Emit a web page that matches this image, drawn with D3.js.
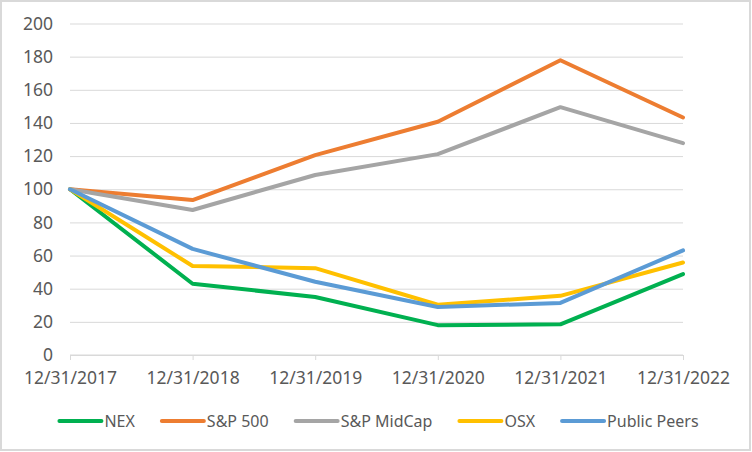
<!DOCTYPE html>
<html>
<head>
<meta charset="utf-8">
<script src="https://cdn.jsdelivr.net/npm/d3@7"></script>
<style>
  body { margin: 0; background: #fff; }
  svg { display: block; font-family: "Noto Sans", sans-serif; }
</style>
</head>
<body>
<svg id="chart" width="752" height="452"></svg>
<script>
/** ------------- DATA -------------- */
const dates = ["12/31/2017", "12/31/2018", "12/31/2019", "12/31/2020", "12/31/2021", "12/31/2022"];
const nex = [100, 43, 35, 18, 18.5, 48.8];
const sp500 = [100, 93.5, 120.6, 140.7, 177.8, 143.3];
const midcap = [100, 87.5, 108.6, 121.2, 149.5, 127.8];
const osx = [100, 53.7, 52.4, 30.3, 35.7, 55.8];
const peers = [100, 64, 44.2, 29, 31.4, 63.1];
const yTicks = [0, 20, 40, 60, 80, 100, 120, 140, 160, 180, 200];

const series = [
    { name: "NEX", values: nex, color: "#00B050" },
    { name: "S&P 500", values: sp500, color: "#ED7D31" },
    { name: "S&P MidCap", values: midcap, color: "#A5A5A5" },
    { name: "OSX", values: osx, color: "#FFC000" },
    { name: "Public Peers", values: peers, color: "#5B9BD5" },
];

/** ------------- D3 GRAPH -------------- */
const svg = d3.select("#chart");
const width = +svg.attr("width");
const height = +svg.attr("height");

// outer frame
svg.append("rect")
    .attr("x", 1).attr("y", 1)
    .attr("width", width - 3).attr("height", height - 3)
    .attr("fill", "#fff")
    .attr("stroke", "#d9d9d9")
    .attr("stroke-width", 2);

const x = d3.scalePoint().domain(dates).range([70, 683]);
const y = d3.scaleLinear().domain([0, 200]).range([355, 23.5]);

/** gridlines + y labels */
const yAxis = svg.append("g")
    .attr("transform", "translate(70,0)")
    .call(d3.axisLeft(y).tickValues(yTicks).tickSize(-(683 - 70)).tickPadding(17));
yAxis.select(".domain").remove();
yAxis.selectAll(".tick line").attr("stroke", "#d9d9d9").attr("stroke-width", 1);
yAxis.selectAll(".tick text")
    .attr("fill", "#595959")
    .style("font-size", "17.5px")
    .style("font-family", "'Noto Sans', sans-serif");

/** x axis */
const xAxis = svg.append("g")
    .attr("transform", "translate(0,355)")
    .call(d3.axisBottom(x).tickSizeOuter(0).tickSize(5).tickPadding(12));
xAxis.select(".domain").attr("stroke", "#d9d9d9").attr("d", "M70,0H683");
xAxis.selectAll(".tick line").attr("stroke", "#d9d9d9");
xAxis.selectAll(".tick text")
    .attr("fill", "#595959")
    .style("font-size", "17.5px")
    .style("font-family", "'Noto Sans', sans-serif");

/** lines */
const line = d3.line()
    .x((d, i) => x(dates[i]))
    .y((d) => y(d));

svg.append("g")
    .selectAll("path")
    .data(series)
    .join("path")
    .attr("d", (d) => line(d.values))
    .attr("fill", "none")
    .attr("stroke", (d) => d.color)
    .attr("stroke-width", 4)
    .attr("stroke-linejoin", "round")
    .attr("stroke-linecap", "round");

/** legend */
const legend = svg.append("g").attr("transform", "translate(0,421)");
const swatch = 42;
const gap = 27;
const items = legend.selectAll("g")
    .data(series)
    .join("g");
items.append("line")
    .attr("x1", 0).attr("x2", swatch)
    .attr("y1", 0).attr("y2", 0)
    .attr("stroke", (d) => d.color)
    .attr("stroke-width", 4)
    .attr("stroke-linecap", "round");
items.append("text")
    .attr("x", swatch + 3)
    .attr("dy", "0.35em")
    .attr("fill", "#595959")
    .style("font-size", "16px")
    .text((d) => d.name);

// lay out legend entries centred under the chart
let total = 0;
const widths = [];
items.each(function () {
    const w = swatch + 3 + this.querySelector("text").getComputedTextLength();
    widths.push(w);
    total += w;
});
total += gap * (series.length - 1);
let pos = 379 - total / 2;
items.each(function (d, i) {
    d3.select(this).attr("transform", `translate(${pos},0)`);
    pos += widths[i] + gap;
});
</script>
</body>
</html>
